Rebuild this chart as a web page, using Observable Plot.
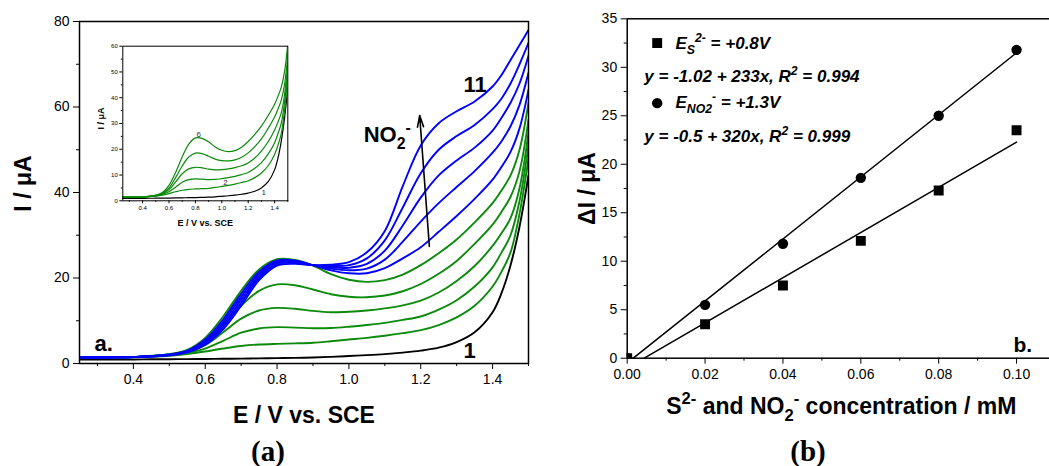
<!DOCTYPE html>
<html>
<head>
<meta charset="utf-8">
<script src="https://cdn.jsdelivr.net/npm/d3@7"></script>
<script src="https://cdn.jsdelivr.net/npm/@observablehq/plot@0.6"></script>
<style>
  body { margin: 0; background: #fff; overflow: hidden; }
  #fig { position: relative; width: 1049px; height: 466px; overflow: hidden;
         font-family: "Liberation Sans", Arial, sans-serif; color: #000; }
  #fig svg { position: absolute; overflow: visible; }
  .cap { position: absolute; top: 435px; font-family: "Liberation Serif", "Times New Roman", serif;
         font-weight: bold; font-size: 29px; line-height: 32px; transform: translateX(-50%); }
</style>
</head>
<body>
<div id="fig"></div>
<script>
// ---------- (a) linear sweep voltammograms ----------
const potential = [0.25, 0.30, 0.35, 0.40, 0.45, 0.50, 0.55, 0.60, 0.65, 0.70, 0.75, 0.80, 0.85, 0.90,
                   0.95, 1.00, 1.05, 1.10, 1.15, 1.20, 1.25, 1.30, 1.35, 1.40, 1.425, 1.45, 1.475, 1.50];

// scan 1: blank electrolyte
const scan1  = [0.9, 0.9, 0.92, 0.95, 0.98, 1.0, 1.03, 1.06, 1.1, 1.15, 1.2, 1.25, 1.32, 1.4,
                1.55, 1.75, 1.95, 2.2, 2.55, 3.0, 3.7, 5.0, 7.3, 12.0, 16.5, 23.0, 32.0, 44.0];
// scans 2-6: increasing S2-
const scan2  = [1.4, 1.4, 1.45, 1.5, 1.6, 1.8, 2.2, 2.8, 3.5, 4.1, 4.45, 4.6, 4.7, 4.85,
                5.2, 5.6, 6.0, 6.5, 7.1, 7.8, 9.0, 10.8, 13.5, 18.0, 21.5, 26.0, 35.0, 48.0];
const scan3  = [1.4, 1.4, 1.45, 1.5, 1.65, 1.9, 2.5, 3.5, 5.3, 7.2, 8.2, 8.5, 8.4, 8.25,
                8.3, 8.6, 9.0, 9.5, 10.2, 11.0, 12.6, 14.8, 18.0, 22.5, 26.0, 30.0, 38.0, 51.0];
const scan4  = [1.4, 1.4, 1.45, 1.5, 1.7, 2.0, 2.8, 4.3, 7.3, 10.5, 12.4, 13.0, 12.8, 12.3,
                12.0, 12.1, 12.4, 12.9, 13.6, 14.7, 16.6, 19.3, 22.8, 27.5, 30.5, 34.0, 41.0, 54.0];
const scan5  = [1.4, 1.4, 1.45, 1.5, 1.75, 2.1, 3.0, 5.0, 9.0, 13.5, 17.0, 18.5, 18.3, 17.3,
                16.2, 15.6, 15.5, 15.9, 16.9, 18.6, 21.0, 24.0, 28.0, 32.5, 35.5, 39.0, 45.0, 57.0];
const scan6  = [1.4, 1.4, 1.45, 1.5, 1.8, 2.2, 3.2, 6.0, 11.0, 17.0, 22.0, 24.4, 24.2, 22.9,
                20.9, 19.6, 19.1, 19.5, 20.8, 23.0, 25.8, 29.0, 33.0, 37.5, 40.5, 44.0, 50.0, 61.0];
// scans 7-11: increasing NO2-
const scan7  = [1.4, 1.4, 1.45, 1.5, 1.75, 2.1, 3.0, 5.6, 10.3, 16.3, 21.5, 24.1, 24.1, 23.0,
                21.8, 21.1, 21.1, 22.3, 24.6, 27.2, 30.8, 34.5, 38.5, 43.0, 46.0, 49.5, 55.0, 64.0];
const scan8  = [1.4, 1.4, 1.45, 1.5, 1.75, 2.05, 2.9, 5.3, 9.7, 15.6, 21.0, 23.8, 23.9, 23.0,
                22.2, 21.8, 22.2, 24.3, 28.5, 33.2, 37.5, 41.3, 45.0, 49.3, 52.0, 55.5, 60.5, 68.0];
const scan9  = [1.4, 1.4, 1.45, 1.5, 1.7, 2.0, 2.8, 5.0, 9.1, 14.9, 20.5, 23.5, 23.7, 23.0,
                22.5, 22.4, 23.3, 26.4, 32.3, 38.8, 44.0, 47.5, 50.5, 54.5, 57.5, 61.0, 65.5, 72.0];
const scan10 = [1.4, 1.4, 1.45, 1.5, 1.7, 1.95, 2.7, 4.7, 8.5, 14.2, 20.0, 23.2, 23.5, 23.0,
                22.8, 23.0, 24.6, 28.8, 36.5, 44.5, 50.0, 53.2, 55.8, 59.5, 62.0, 65.5, 70.0, 75.0];
const scan11 = [1.4, 1.4, 1.45, 1.5, 1.65, 1.9, 2.6, 4.4, 8.0, 13.5, 19.5, 22.9, 23.3, 23.0,
                23.1, 23.7, 26.0, 31.0, 41.5, 51.0, 56.2, 59.0, 61.3, 64.8, 67.5, 71.0, 74.5, 78.0];

const scans = [scan1, scan2, scan3, scan4, scan5, scan6, scan7, scan8, scan9, scan10, scan11];

// ---------- (b) calibration ----------
const concentration = [0.00, 0.02, 0.04, 0.06, 0.08, 0.10];
const sulfideCurrent = [0.0, 3.5, 7.5, 12.1, 17.3, 23.5];
const nitriteCurrent = [0.0, 5.5, 11.8, 18.6, 25.0, 31.8];
const fitIntercept = [-1.02, -0.5];
const fitSlope = [233, 320];

const GREEN = "#0b8a0b", BLUE = "#0000ff";
const colorOf = (k) => (k === 0 ? "#000" : k <= 5 ? GREEN : BLUE);
const FONT = '"Liberation Sans", Arial, sans-serif';
const range = (a, b, s) => d3.range(Math.round((b - a) / s) + 1).map((i) => +(a + i * s).toFixed(4));

// Turns "_{..}" into subscripts and "^{..}" into superscripts inside SVG text
function richText(svg) {
  d3.select(svg).selectAll("text").each(function () {
    const src = this.textContent;
    if (!/[_^]\{/.test(src)) return;
    const size = parseFloat(getComputedStyle(this).fontSize) || 16;
    const parts = [];
    const re = /([_^])\{([^}]*)\}|([^_^]+)/g;
    let m;
    while ((m = re.exec(src))) parts.push(m[3] ? {t: m[3], s: 0} : {t: m[2], s: m[1] === "_" ? 1 : -1});
    const el = d3.select(this);
    el.text(null);
    let shift = 0;
    for (const p of parts) {
      const target = p.s === 1 ? 0.3 * size : p.s === -1 ? -0.42 * size : 0;
      el.append("tspan").attr("dy", target - shift).attr("font-size", p.s ? 0.72 * size : null).text(p.t);
      shift = target;
    }
  });
}

function place(svg, left, top) {
  svg.style.left = left + "px";
  svg.style.top = top + "px";
  document.getElementById("fig").appendChild(svg);
  richText(svg);
}

const scanLines = (lineWidth, clip) =>
  scans.map((vals, k) =>
    Plot.line(vals, {x: (d, i) => potential[i], y: (d) => d, stroke: colorOf(k),
                     strokeWidth: lineWidth, curve: "catmull-rom", clip}));

// axis titles: horizontal below the frame, vertical left of it
const xTitle = (label, dy, size) =>
  Plot.text([label], {frameAnchor: "bottom", textAnchor: "middle", lineAnchor: "bottom", dy, fontSize: size, fontWeight: "bold"});
const yTitle = (label, dx, dy, size) =>
  Plot.text([label], {frameAnchor: "left", textAnchor: "middle", lineAnchor: "middle", rotate: -90, dx, dy, fontSize: size, fontWeight: "bold"});

// ---------- panel (a) ----------
const panelA = Plot.plot({
  width: 540, height: 466,
  marginLeft: 79, marginRight: 12, marginTop: 21, marginBottom: 103,
  x: {domain: [0.25, 1.5]},
  y: {domain: [0, 80]},
  style: {fontFamily: FONT, background: "transparent", overflow: "visible", color: "#000"},
  marks: [
    ...scanLines(1.9, true),
    Plot.frame({strokeWidth: 1.5}),
    Plot.axisX({ticks: range(0.4, 1.4, 0.2), tickSize: 6, tickPadding: 5, fontSize: 14,
                tickFormat: d3.format(".1f"), label: null}),
    Plot.axisX({ticks: range(0.3, 1.5, 0.2), tickSize: 3, tickFormat: () => "", label: null}),
    Plot.axisY({ticks: range(0, 80, 20), tickSize: 6, tickPadding: 4, fontSize: 14, label: null}),
    Plot.axisY({ticks: range(10, 70, 20), tickSize: 3, tickFormat: () => "", label: null}),
    xTitle("E / V vs. SCE", 59, 23),
    yTitle("I / μA", -56, -9, 23),
    Plot.text([{x: 0.292, y: 2.9, t: "a."}, {x: 1.319, y: 1.2, t: "1"}, {x: 1.319, y: 63.5, t: "11"}],
              {x: "x", y: "y", text: "t", textAnchor: "start", lineAnchor: "bottom", fontSize: 22, fontWeight: "bold"}),
    Plot.text([{x: 1.041, y: 51.8, t: "NO_{2}^{-}"}],
              {x: "x", y: "y", text: "t", textAnchor: "start", lineAnchor: "bottom", fontSize: 22, fontWeight: "bold"}),
    Plot.arrow([{x1: 1.224, y1: 27.4, x2: 1.197, y2: 58}],
               {x1: "x1", y1: "y1", x2: "x2", y2: "y2", strokeWidth: 1.6, headLength: 11, headAngle: 30})
  ]
});
place(panelA, 0, 0);

// ---------- inset: scans 1-6 ----------
const inset = Plot.plot({
  width: 205, height: 200,
  marginLeft: 32.3, marginRight: 7.7, marginTop: 10.7, marginBottom: 34.7,
  x: {domain: [0.25, 1.5]},
  y: {domain: [0, 60]},
  style: {fontFamily: FONT, background: "#fff", overflow: "visible", color: "#000"},
  marks: [
    ...scanLines(1.2, true).slice(0, 6),
    Plot.frame({strokeWidth: 1}),
    Plot.axisX({ticks: range(0.4, 1.4, 0.2), tickSize: 3, tickPadding: 2, fontSize: 6,
                tickFormat: d3.format(".1f"), label: null}),
    Plot.axisX({ticks: range(0.3, 1.5, 0.2), tickSize: 1.5, tickFormat: () => "", label: null}),
    Plot.axisY({ticks: range(0, 60, 10), tickSize: 3, tickPadding: 2, fontSize: 6, label: null}),
    Plot.axisY({ticks: range(5, 55, 10), tickSize: 1.5, tickFormat: () => "", label: null}),
    xTitle("E / V vs. SCE", 25.4, 9),
    yTitle("I / μA", -22, -5, 9),
    Plot.text([{x: 0.826, y: 25.6, t: "6"}, {x: 1.028, y: 7.0, t: "2"}, {x: 1.318, y: 3.3, t: "1"}],
              {x: "x", y: "y", text: "t", fontSize: 8, fill: "#333"})
  ]
});
place(inset, 90, 35);

// ---------- panel (b) ----------
const sulfideRows = concentration.map((c, i) => ({c, I: sulfideCurrent[i]}));
const nitriteRows = concentration.map((c, i) => ({c, I: nitriteCurrent[i]}));
// fitted lines drawn from the x-intercept to the last concentration
const fitRows = fitIntercept.flatMap((a, k) => {
  const b = fitSlope[k];
  const cEnd = concentration[concentration.length - 1];
  return [{k, c: -a / b, I: 0}, {k, c: cEnd, I: a + b * cEnd}];
});

const panelB = Plot.plot({
  width: 560, height: 466,
  marginLeft: 106.7, marginRight: 25, marginTop: 18.3, marginBottom: 108.3,
  x: {domain: [0, 0.11]},
  y: {domain: [0, 35]},
  style: {fontFamily: FONT, background: "transparent", overflow: "visible", color: "#000"},
  marks: [
    Plot.line(fitRows, {x: "c", y: "I", z: "k", stroke: "#000", strokeWidth: 1.5}),
    Plot.dot(sulfideRows, {x: "c", y: "I", symbol: "square", r: 5.6, fill: "#000", clip: true}),
    Plot.dot(nitriteRows, {x: "c", y: "I", symbol: "circle", r: 5.2, fill: "#000", clip: true}),
    Plot.frame({strokeWidth: 1.5}),
    Plot.axisX({ticks: range(0, 0.1, 0.02), tickSize: 6, tickPadding: 5, fontSize: 14,
                tickFormat: d3.format(".2f"), label: null}),
    Plot.axisX({ticks: range(0.01, 0.09, 0.02), tickSize: 3, tickFormat: () => "", label: null}),
    Plot.axisY({ticks: range(0, 35, 5), tickSize: 6, tickPadding: 4, fontSize: 14, label: null}),
    Plot.axisY({ticks: range(2.5, 32.5, 5), tickSize: 3, tickFormat: () => "", label: null}),
    xTitle("S^{2-} and NO_{2}^{-} concentration / mM", 55.5, 23),
    yTitle("ΔI / μA", -40, 0, 23),
    // legend
    Plot.dot([{x: 0.0077, y: 32.5}], {x: "x", y: "y", symbol: "square", r: 5.6, fill: "#000"}),
    Plot.dot([{x: 0.0077, y: 26.3}], {x: "x", y: "y", symbol: "circle", r: 5.2, fill: "#000"}),
    Plot.text([
      {x: 0.0124, y: 31.9, t: "E_{S}^{2-} = +0.8V"},
      {x: 0.0044, y: 28.5, t: "y = -1.02 + 233x, R^{2} = 0.994"},
      {x: 0.0124, y: 25.8, t: "E_{NO2}^{-} = +1.3V"},
      {x: 0.0044, y: 22.3, t: "y = -0.5 + 320x, R^{2} = 0.999"}
    ], {x: "x", y: "y", text: "t", textAnchor: "start", lineAnchor: "bottom",
        fontSize: 17, fontWeight: "bold", fontStyle: "italic"}),
    Plot.text([{x: 0.0992, y: 0.6, t: "b."}],
              {x: "x", y: "y", text: "t", textAnchor: "start", lineAnchor: "bottom", fontSize: 21, fontWeight: "bold"})
  ]
});
place(panelB, 520, 0);

// panel captions
for (const [label, cx] of [["(a)", 268], ["(b)", 808]]) {
  const div = document.createElement("div");
  div.className = "cap";
  div.style.left = cx + "px";
  div.textContent = label;
  document.getElementById("fig").appendChild(div);
}
</script>
</body>
</html>
